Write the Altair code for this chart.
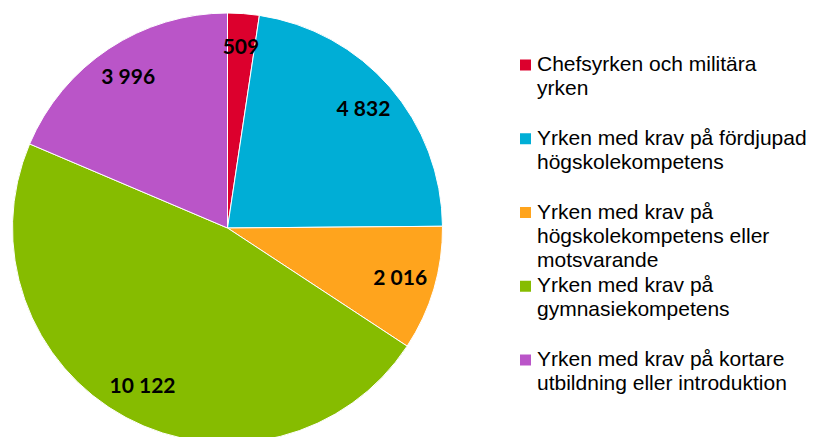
import altair as alt
import pandas as pd

categories = [
    "Chefsyrken och militära yrken",
    "Yrken med krav på fördjupad högskolekompetens",
    "Yrken med krav på högskolekompetens eller motsvarande",
    "Yrken med krav på gymnasiekompetens",
    "Yrken med krav på kortare utbildning eller introduktion",
]
legend_lines = [
    "Chefsyrken och militära|yrken",
    "Yrken med krav på fördjupad|högskolekompetens",
    "Yrken med krav på|högskolekompetens eller|motsvarande",
    "Yrken med krav på|gymnasiekompetens",
    "Yrken med krav på kortare|utbildning eller introduktion",
]
values = [509, 4832, 2016, 10122, 3996]
value_labels = ["509", "4 832", "2 016", "10 122", "3 996"]
colors = ["#DC002D", "#00AED6", "#FFA41D", "#86BC00", "#BA55C8"]

df = pd.DataFrame({
    "cat": categories,
    "legend": legend_lines,
    "value": values,
    "label": value_labels,
    "order": list(range(len(categories))),
})

color = alt.Color("cat:N", scale=alt.Scale(domain=categories, range=colors), legend=None)

base = alt.Chart(df).encode(
    theta=alt.Theta("value:Q", stack=True),
    order=alt.Order("order:Q"),
)

pie = base.mark_arc(radius=215, stroke="white", strokeWidth=1).encode(
    color=color,
    x=alt.value(219.5),
    y=alt.value(220),
)

labels = base.mark_text(
    radius=180, font="Lato", fontWeight="bold", fontSize=21, color="black",
).encode(
    text="label:N",
    x=alt.value(219.5),
    y=alt.value(220),
)

ly = alt.Y(
    "cat:N",
    scale=alt.Scale(domain=categories, type="point", range=[57, 352], padding=0),
    axis=None,
)

squares = alt.Chart(df).mark_square(size=121, opacity=1, filled=True).encode(
    x=alt.value(517.5),
    y=ly,
    color=color,
)

legend_text = alt.Chart(df).mark_text(
    align="left", baseline="line-top", lineBreak="|", lineHeight=24, dy=-12,
    font="Liberation Sans", fontSize=21, color="black",
).encode(
    x=alt.value(529),
    y=ly,
    text="legend:N",
)

chart = alt.layer(pie, labels, squares, legend_text).properties(
    width=800, height=429,
    autosize=alt.AutoSizeParams(type="none"),
    padding=0,
    view=alt.ViewBackground(stroke="transparent", strokeWidth=0),
).configure_view(stroke="transparent", strokeWidth=0).configure(background="white")

chart.save("out.html", embed_options={"renderer": "svg", "actions": False})
